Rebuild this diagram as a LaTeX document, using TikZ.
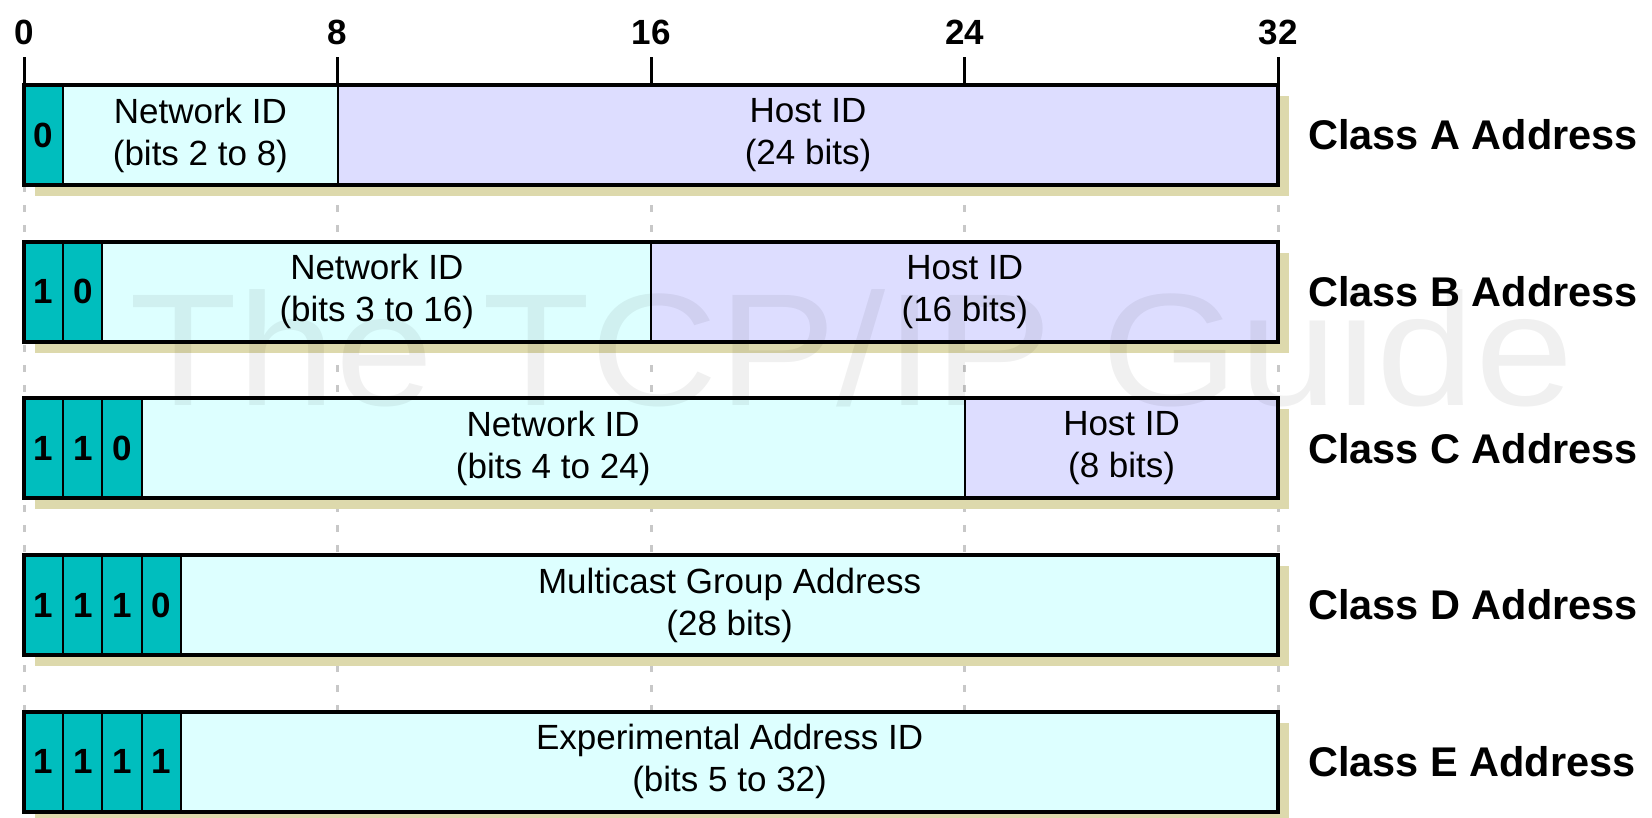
\documentclass[tikz,border=0pt]{standalone}
\usepackage{fontspec}
\setmainfont{Liberation Sans}
\definecolor{bitc}{RGB}{0,190,190}
\definecolor{netc}{RGB}{221,255,255}
\definecolor{hostc}{RGB}{221,221,255}
\definecolor{shadowc}{RGB}{221,217,172}
\definecolor{gridc}{RGB}{200,200,200}
\tikzset{
  field/.style={draw=black, line width=2pt, inner sep=0pt, outer sep=0pt,
    minimum height=100pt, anchor=north west, align=center,
    font=\fontsize{35}{42}\selectfont},
  bitcell/.style={field, fill=bitc, minimum width=39.2pt,
    font=\fontsize{35}{40}\selectfont\bfseries},
  netfield/.style={field, fill=netc},
  hostfield/.style={field, fill=hostc},
  frame/.style={draw=black, line width=4pt},
  shadowbox/.style={fill=shadowc},
  gridline/.style={draw=gridc, line width=3pt, dash pattern=on 7pt off 13pt},
  tickline/.style={draw=black, line width=3pt},
  ticklabel/.style={font=\fontsize{35}{35}\selectfont\bfseries},
  classlabel/.style={font=\fontsize{41.5}{41.5}\selectfont\bfseries, anchor=west, inner sep=0pt},
  watermark/.style={font=\fontsize{160}{160}\selectfont, text=black, text opacity=0.06,
    inner sep=0pt, anchor=base west, xscale=1.105, transform shape}
}
\begin{document}
\begin{tikzpicture}[x=1pt,y=-1pt]
\useasboundingbox (0,0) rectangle (1652,817);
% ruler coordinates
\foreach \n/\b in {0/0,8/8,16/16,24/24,32/32}{
  \coordinate (tt\n) at ({24+39.2*\b},57);
  \coordinate (tb\n) at ({24+39.2*\b},85);
  \coordinate (tl\n) at ({24+39.2*\b},32);
  \coordinate (ge\n) at ({24+39.2*\b},740);
}
% grid dashed lines (behind)
\foreach \n in {0,8,16,24,32}{
  \draw[gridline] (tb\n) -- (ge\n);
}
% shadows
\foreach \t in {85,241.7,398.3,555,711.7}{
  \fill[shadowbox] (35,\t+11) rectangle (1289.4,\t+111);
}
% Class A
\node[bitcell] (a0) at (24,85) {0};
\node[netfield, minimum width=274.4pt] (anet) at (63.2,85) {Network ID\\(bits 2 to 8)};
\node[hostfield, minimum width=940.8pt] (ahost) at (337.6,85) {Host ID\\(24 bits)};
% Class B
\node[bitcell] (b0) at (24,241.7) {1};
\node[bitcell] (b1) at (63.2,241.7) {0};
\node[netfield, minimum width=548.8pt] (bnet) at (102.4,241.7) {Network ID\\(bits 3 to 16)};
\node[hostfield, minimum width=627.2pt] (bhost) at (651.2,241.7) {Host ID\\(16 bits)};
% Class C
\node[bitcell] (c0) at (24,398.3) {1};
\node[bitcell] (c1) at (63.2,398.3) {1};
\node[bitcell] (c2) at (102.4,398.3) {0};
\node[netfield, minimum width=823.2pt] (cnet) at (141.6,398.3) {Network ID\\(bits 4 to 24)};
\node[hostfield, minimum width=313.6pt] (chost) at (964.8,398.3) {Host ID\\(8 bits)};
% Class D
\node[bitcell] (d0) at (24,555) {1};
\node[bitcell] (d1) at (63.2,555) {1};
\node[bitcell] (d2) at (102.4,555) {1};
\node[bitcell] (d3) at (141.6,555) {0};
\node[netfield, minimum width=1097.6pt] (dnet) at (180.8,555) {Multicast Group Address\\(28 bits)};
% Class E
\node[bitcell] (e0) at (24,711.7) {1};
\node[bitcell] (e1) at (63.2,711.7) {1};
\node[bitcell] (e2) at (102.4,711.7) {1};
\node[bitcell] (e3) at (141.6,711.7) {1};
\node[netfield, minimum width=1097.6pt] (enet) at (180.8,711.7) {Experimental Address ID\\(bits 5 to 32)};
% frames
\draw[frame] (a0.north west) rectangle (ahost.south east);
\draw[frame] (b0.north west) rectangle (bhost.south east);
\draw[frame] (c0.north west) rectangle (chost.south east);
\draw[frame] (d0.north west) rectangle (dnet.south east);
\draw[frame] (e0.north west) rectangle (enet.south east);
% watermark
\node[watermark] (wm) at (129,405) {The TCP/IP Guide};
% ruler
\foreach \n in {0,8,16,24,32}{
  \draw[tickline] (tt\n) -- (tb\n);
  \node[ticklabel] (l\n) at (tl\n) {\n};
}
% class labels
\node[classlabel] (la) at (1308,135) {Class A Address};
\node[classlabel] (lb) at (1308,291.7) {Class B Address};
\node[classlabel] (lc) at (1308,448.3) {Class C Address};
\node[classlabel] (ld) at (1308,605) {Class D Address};
\node[classlabel] (le) at (1308,761.7) {Class E Address};
\end{tikzpicture}
\end{document}
